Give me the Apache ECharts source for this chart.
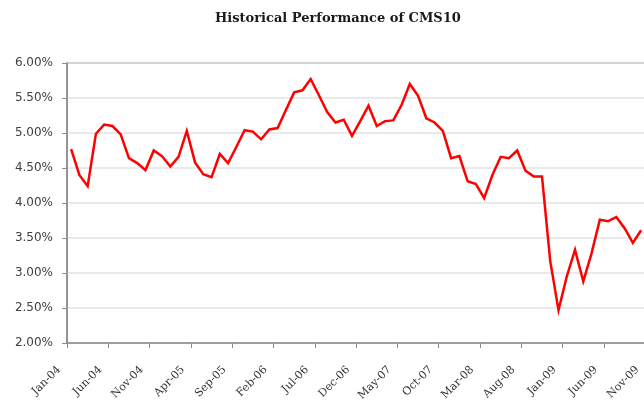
<!DOCTYPE html>
<html>
<head>
<meta charset="utf-8">
<script src="https://cdn.jsdelivr.net/npm/echarts@6/dist/echarts.min.js"></script>
<style>
  html, body { margin: 0; padding: 0; background: #ffffff; overflow: hidden; }
  #chart { width: 660px; height: 406px; }
</style>
</head>
<body>
<div id="chart"></div>
<script>
const titleText = 'Historical Performance of CMS10';

const months = [
  'Jan-04','Feb-04','Mar-04','Apr-04','May-04','Jun-04','Jul-04','Aug-04','Sep-04','Oct-04','Nov-04','Dec-04',
  'Jan-05','Feb-05','Mar-05','Apr-05','May-05','Jun-05','Jul-05','Aug-05','Sep-05','Oct-05','Nov-05','Dec-05',
  'Jan-06','Feb-06','Mar-06','Apr-06','May-06','Jun-06','Jul-06','Aug-06','Sep-06','Oct-06','Nov-06','Dec-06',
  'Jan-07','Feb-07','Mar-07','Apr-07','May-07','Jun-07','Jul-07','Aug-07','Sep-07','Oct-07','Nov-07','Dec-07',
  'Jan-08','Feb-08','Mar-08','Apr-08','May-08','Jun-08','Jul-08','Aug-08','Sep-08','Oct-08','Nov-08','Dec-08',
  'Jan-09','Feb-09','Mar-09','Apr-09','May-09','Jun-09','Jul-09','Aug-09','Sep-09','Oct-09','Nov-09'
];

const cms10 = [
  4.77, 4.40, 4.24, 4.99, 5.12, 5.10, 4.98, 4.64, 4.57, 4.47, 4.75, 4.67,
  4.52, 4.66, 5.03, 4.58, 4.41, 4.37, 4.70, 4.57, 4.80, 5.04, 5.02, 4.91,
  5.05, 5.07, 5.33, 5.58, 5.61, 5.77, 5.54, 5.30, 5.15, 5.19, 4.96, 5.17,
  5.39, 5.10, 5.17, 5.18, 5.40, 5.70, 5.53, 5.21, 5.15, 5.03, 4.64, 4.67,
  4.31, 4.27, 4.07, 4.40, 4.66, 4.64, 4.75, 4.46, 4.38, 4.38, 3.17, 2.47,
  2.95, 3.33, 2.88, 3.28, 3.76, 3.74, 3.80, 3.64, 3.43, 3.61, null
];

const yMin = 2.0, yMax = 6.0, yStep = 0.5;

const chart = echarts.init(document.getElementById('chart'), null, { renderer: 'canvas' });
chart.setOption({
  animation: false,
  backgroundColor: '#ffffff',
  title: {
    text: titleText,
    left: 210,
    top: 7,
    textStyle: { fontFamily: 'DejaVu Serif', fontWeight: 'bold', fontSize: 13, color: '#1a1a1a' }
  },
  grid: {
    left: 67, top: 63, bottom: 63, width: 586.5,
    show: true, borderColor: '#8c8c8c', borderWidth: 1.5, backgroundColor: 'transparent',
    containLabel: false
  },
  xAxis: {
    type: 'category',
    data: months,
    boundaryGap: true,
    axisLine: { show: true, lineStyle: { color: '#8c8c8c', width: 1.5 } },
    axisTick: { show: true, interval: 4, length: 5, inside: false, lineStyle: { color: '#8c8c8c', width: 1 } },
    axisLabel: {
      interval: 4, rotate: 45, margin: 13, padding: [0, 17, 0, 0],
      fontFamily: 'DejaVu Serif', fontSize: 11, color: '#333333'
    },
    splitLine: { show: false }
  },
  yAxis: {
    type: 'value',
    min: yMin, max: yMax, interval: yStep,
    axisLine: { show: true, lineStyle: { color: '#8c8c8c', width: 1.5 } },
    axisTick: { show: true, length: 5, inside: false, lineStyle: { color: '#8c8c8c', width: 1 } },
    axisLabel: {
      margin: 14,
      formatter: v => v.toFixed(2) + '%',
      fontFamily: 'DejaVu Sans', fontSize: 12, color: '#404040'
    },
    splitLine: { show: true, lineStyle: { color: '#e3e3e3', width: 1.5 } }
  },
  series: [{
    type: 'line',
    data: cms10,
    showSymbol: false,
    symbol: 'none',
    connectNulls: false,
    lineStyle: { color: '#ff0000', width: 2.5, join: 'miter' },
    itemStyle: { color: '#ff0000' }
  }]
});
</script>
</body>
</html>
